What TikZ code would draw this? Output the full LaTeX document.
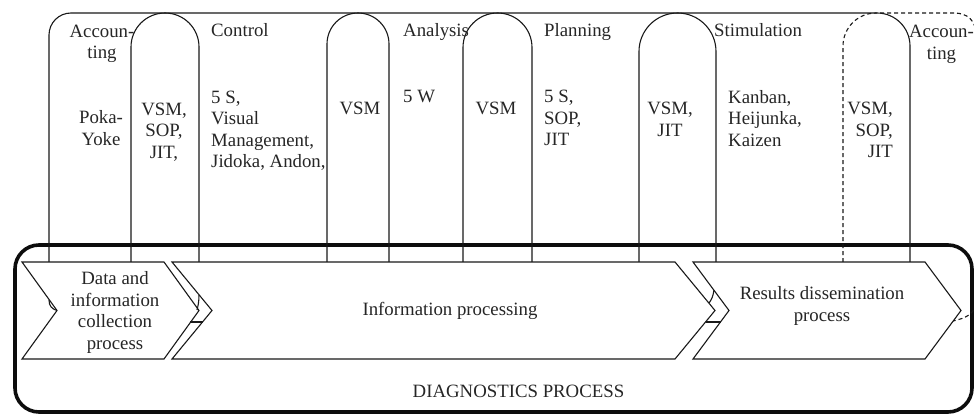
\documentclass[tikz,border=0pt]{standalone}
\usepackage{fontspec}
\setmainfont{Liberation Serif}
\usetikzlibrary{calc}
\tikzstyle{column}=[line width=1.1pt, draw=black!90]
\tikzstyle{arch}=[column]
\tikzstyle{loose}=[dash pattern=on 4pt off 3pt]
\tikzstyle{chevron}=[column, fill=white]
\tikzstyle{frame}=[line width=3.6pt, draw=black!95, rounded corners=24pt]
\tikzstyle{phase}=[inner sep=0pt, anchor=north west, align=left, text=black!85, font=\fontsize{18.8}{21.6}\selectfont]
\tikzstyle{tool}=[inner sep=0pt, anchor=north, align=center, text=black!85, font=\fontsize{18.8}{21.6}\selectfont]

\begin{document}
\begin{tikzpicture}[x=1pt, y=-1pt]
    \useasboundingbox (0,0) rectangle (974,415);

    \draw[frame] (15,245) rectangle (972,412);

    \draw[column, rounded corners=22pt] (49,262) -- (49,13) -- (873,13);
    \draw[column, loose] (873,13) -- (954,13) .. controls (968,13) and (976,21) .. (976,35) -- (976,300) .. controls (976,314) and (966,318) .. (953,321);

    \foreach \l/\r in {131/199, 327/389, 463/532, 639/716} {
        \pgfmathsetmacro\rad{(\r-\l)/2}
        \draw[arch, rounded corners=\rad pt] (\l,262) -- (\l,13) -- (\r,13) -- (\r,262);
    }
    \draw[arch, loose, rounded corners=33pt] (843,262) -- (843,13) -- (876.5,13);
    \draw[arch, rounded corners=33pt] (876.5,13) -- (910,13) -- (910,262);

    \foreach \a/\b/\d in {22/164/35, 172/675/40, 693/925/36}
        \draw[chevron] (\a,262) -- (\b,262) -- (\b+\d,310.5) -- (\b,359) -- (\a,359) -- (\a+\d,310.5) -- cycle;

    \draw[column] (49,300) .. controls (49,306) and (52,309) .. (57,310.5);
    \draw[column] (199,295) .. controls (199,302) and (198,306) .. (197,310);
    \draw[column] (189.9,322) -- (202.5,322);
    \draw[column] (714,290) .. controls (713,296) and (712,299) .. (709,303);
    \draw[column] (705.5,322) -- (720.5,322);

    \foreach \pos/\name/\label in {{(211,23.5)/control/Control}, {(211,90.5)/controlTools/{5 S,\\Visual\\Management,\\Jidoka, Andon,}},
        {(403,23.5)/analysis/Analysis}, {(403,90)/analysisTools/5 W},
        {(544,23.5)/planning/Planning}, {(544,90)/planningTools/{5 S,\\SOP,\\JIT}},
        {(714,23.5)/stimulation/Stimulation}, {(728,90)/stimulationTools/{Kanban,\\Heijunka,\\Kaizen}}}
        \node[phase] (\name) at \pos {\label};

    \foreach \pos/\name/\label in {{(102,24.5)/accounting/{Accoun-\\ting}}, {(101,110.5)/accountingTools/{Poka-\\Yoke}},
        {(164,102.5)/vsmA/{VSM,\\SOP,\\JIT,}}, {(360,102)/vsmB/VSM}, {(496,102)/vsmC/VSM},
        {(670,102)/vsmD/{VSM,\\JIT}}, {(941.5,25)/accountingNext/{Accoun-\\ting}}}
        \node[tool] (\name) at \pos {\label};
    \node[tool, anchor=north east, align=right] (vsmE) at (893,102) {VSM,\\SOP,\\JIT};

    \node[tool] (collection) at (115,271.5) {Data and\\information\\collection\\process};
    \node[tool, anchor=base] (processing) at (450,315) {Information processing};
    \node[tool] (dissemination) at (822,286.5) {Results dissemination\\process};
    \node[tool, anchor=base] (diagnostics) at (518.5,397.5) {DIAGNOSTICS PROCESS};

\end{tikzpicture}
\end{document}
